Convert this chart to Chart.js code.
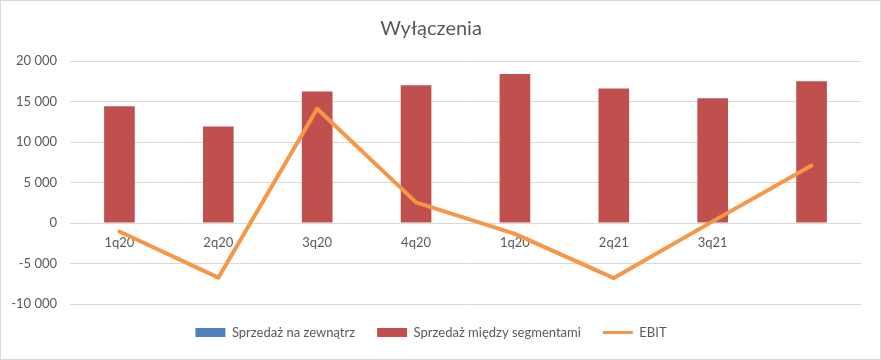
<!DOCTYPE html>
<html>
<head>
<meta charset="utf-8">
<script src="https://cdn.jsdelivr.net/npm/chart.js@4/dist/chart.umd.min.js"></script>
<style>
  html, body { margin: 0; padding: 0; background: #fff; }
  #wrap { width: 881px; height: 360px; box-sizing: border-box; border: 1px solid #d9d9d9; }
  canvas { display: block; }
</style>
</head>
<body>
<div id="wrap"><canvas id="c" width="879" height="358"></canvas></div>
<script>
const categories = ["1q20", "2q20", "3q20", "4q20", "1q20", "2q21", "3q21", ""];
const sprzedazZewnatrz = [0, 0, 0, 0, 0, 0, 0, 0];
const sprzedazSegmenty = [14400, 11900, 16250, 17000, 18400, 16600, 15400, 17500];
const ebit = [-1050, -6750, 14100, 2550, -1350, -6800, 200, 7100];
const yTicks = { min: -10000, max: 20000, step: 5000 };

const FONT = "Lato, 'Open Sans', sans-serif";
const TXT = "#595959";

function fmt(v) {
  const s = Math.abs(v).toString().replace(/\B(?=(\d{3})+(?!\d))/g, " ");
  return (v < 0 ? "-" : "") + s;
}

new Chart(document.getElementById("c"), {
  data: {
    labels: categories,
    datasets: [
      {
        type: "line",
        label: "EBIT",
        data: ebit,
        borderColor: "#F79646",
        backgroundColor: "#F79646",
        borderWidth: 4,
        pointRadius: 0,
        borderCapStyle: "round",
        borderJoinStyle: "round",
        tension: 0,
        order: 0
      },
      {
        type: "bar",
        label: "Sprzedaż na zewnątrz",
        data: sprzedazZewnatrz,
        backgroundColor: "#4F81BD",
        grouped: false,
        categoryPercentage: 1,
        barPercentage: 0.31,
        order: 2
      },
      {
        type: "bar",
        label: "Sprzedaż między segmentami",
        data: sprzedazSegmenty,
        backgroundColor: "#C0504D",
        grouped: false,
        categoryPercentage: 1,
        barPercentage: 0.31,
        order: 1
      }
    ]
  },
  options: {
    responsive: false,
    animation: false,
    layout: { padding: { left: 0, right: 19, top: 0, bottom: 10 } },
    scales: {
      x: {
        position: { y: 0 },
        grid: { display: false, drawTicks: false },
        border: { display: false },
        ticks: { color: TXT, font: { family: FONT, size: 13 }, padding: 12, maxRotation: 0 }
      },
      y: {
        min: yTicks.min,
        max: yTicks.max,
        grid: { color: "#d9d9d9", lineWidth: 1, drawTicks: false },
        border: { display: false },
        ticks: {
          stepSize: yTicks.step,
          color: TXT,
          font: { family: FONT, size: 13 },
          padding: 13,
          callback: v => fmt(v)
        },
        afterFit: s => { s.width = 69; }
      }
    },
    plugins: {
      title: {
        display: true,
        text: "Wyłączenia",
        color: TXT,
        font: { family: FONT, size: 20, weight: "normal" },
        padding: { top: 16, bottom: 20 }
      },
      legend: {
        position: "bottom",
        labels: {
          color: TXT,
          font: { family: FONT, size: 13 },
          usePointStyle: true,
          pointStyleWidth: 30,
          boxHeight: 9,
          padding: 22,
          generateLabels: chart => {
            const ds = chart.data.datasets;
            const order = [1, 2, 0];
            return order.map(i => ({
              text: ds[i].label,
              fillStyle: ds[i].backgroundColor,
              strokeStyle: ds[i].borderColor || ds[i].backgroundColor,
              lineWidth: ds[i].type === "line" ? 3 : 0,
              pointStyle: ds[i].type === "line" ? "line" : "rect",
              fontColor: TXT,
              hidden: false,
              datasetIndex: i
            }));
          }
        }
      },
      tooltip: { enabled: false }
    }
  }
});
</script>
</body>
</html>
